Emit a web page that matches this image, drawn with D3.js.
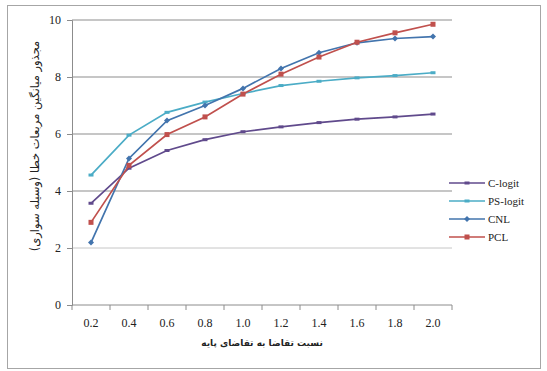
<!DOCTYPE html>
<html>
<head>
<meta charset="utf-8">
<script src="https://cdn.jsdelivr.net/npm/d3@7/dist/d3.min.js"></script>
<style>
  html, body { margin: 0; padding: 0; background: #fff; }
  svg { display: block; }
</style>
</head>
<body>
<svg id="chart" width="547" height="371"></svg>
<script>
// Demand ratio categories (x axis)
const categories = ["0.2", "0.4", "0.6", "0.8", "1.0", "1.2", "1.4", "1.6", "1.8", "2.0"];
const yTicks = [0, 2, 4, 6, 8, 10];

// Error values per model
const cLogit  = [3.57, 4.8, 5.42, 5.8, 6.08, 6.25, 6.4, 6.52, 6.6, 6.7];
const psLogit = [4.56, 5.96, 6.76, 7.12, 7.42, 7.7, 7.85, 7.97, 8.05, 8.15];
const cnl     = [2.19, 5.14, 6.47, 7.0, 7.6, 8.3, 8.85, 9.2, 9.35, 9.42];
const pcl     = [2.9, 4.9, 5.98, 6.6, 7.4, 8.1, 8.7, 9.22, 9.55, 9.85];

const seriesNames = ["C-logit", "PS-logit", "CNL", "PCL"];
const seriesValues = [cLogit, psLogit, cnl, pcl];
const seriesColors = ["#604a8c", "#4bacc6", "#4274ad", "#c0504d"];
const seriesMarkers = ["dash", "dash", "diamond", "square"];

const xTitle = "نسبت تقاضا به تقاضای پایه";
const yTitle = "مجذور میانگین مربعات خطا (وسیله سواری)";

const svg = d3.select("#chart");

// outer frame
svg.append("rect")
  .attr("x", 7.5).attr("y", 5.5)
  .attr("width", 533).attr("height", 363)
  .attr("fill", "#fff").attr("stroke", "#a6a6a6").attr("stroke-width", 1);

const plot = { left: 72, right: 452, top: 20, bottom: 305 };

const x = d3.scaleBand().domain(categories).range([plot.left, plot.right]);
const y = d3.scaleLinear().domain([0, 10]).range([plot.bottom, plot.top]);

// horizontal gridlines
svg.append("g")
  .selectAll("line")
  .data(yTicks.filter(d => d > 0))
  .join("line")
  .attr("x1", plot.left).attr("x2", plot.right)
  .attr("y1", d => y(d)).attr("y2", d => y(d))
  .attr("stroke", "#c6c6c6").attr("stroke-width", d => d === 2 ? 1 : 1.8);

// y axis
const yAxis = svg.append("g")
  .attr("transform", `translate(${plot.left},0)`)
  .call(d3.axisLeft(y).tickValues(yTicks).tickSize(5).tickPadding(6).tickFormat(d3.format("d")));
yAxis.select(".domain").attr("stroke", "#8c8c8c");
yAxis.selectAll(".tick line").attr("stroke", "#8c8c8c");
yAxis.selectAll("text")
  .attr("font-family", "Liberation Serif, serif").attr("font-size", 12).attr("fill", "#222");

// x axis: ticks at category boundaries, labels centred in each band
const xAxis = svg.append("g")
  .attr("transform", `translate(0,${plot.bottom})`);
xAxis.append("line")
  .attr("x1", plot.left).attr("x2", plot.right)
  .attr("stroke", "#8c8c8c");
const bounds = categories.map(c => x(c)).concat([x.range()[1]]);
xAxis.selectAll("line.tk")
  .data(bounds)
  .join("line").attr("class", "tk")
  .attr("x1", d => d).attr("x2", d => d)
  .attr("y1", 0).attr("y2", 5)
  .attr("stroke", "#8c8c8c");
xAxis.selectAll("text")
  .data(categories)
  .join("text")
  .attr("x", d => x(d) + x.bandwidth() / 2)
  .attr("y", 22)
  .attr("text-anchor", "middle")
  .attr("font-family", "Liberation Serif, serif").attr("font-size", 12).attr("fill", "#222")
  .text(d => d);

// axis titles
svg.append("text")
  .attr("x", (plot.left + plot.right) / 2).attr("y", 346)
  .attr("text-anchor", "middle")
  .attr("direction", "rtl")
  .attr("font-family", "DejaVu Sans, sans-serif").attr("font-size", 9).attr("font-weight", "bold")
  .attr("fill", "#222")
  .text(xTitle);

svg.append("text")
  .attr("transform", `translate(39,${(plot.top + 272) / 2}) rotate(-90)`)
  .attr("text-anchor", "middle")
  .attr("direction", "rtl")
  .attr("font-family", "DejaVu Sans, sans-serif").attr("font-size", 11.5)
  .attr("fill", "#222")
  .text(yTitle);

// series lines
const line = d3.line()
  .x((d, i) => x(categories[i]) + x.bandwidth() / 2)
  .y(d => y(d));

function drawMarker(g, kind, cx, cy, color) {
  if (kind === "square") {
    g.append("rect").attr("x", cx - 2.5).attr("y", cy - 2.5).attr("width", 5).attr("height", 5)
      .attr("fill", color);
  } else if (kind === "diamond") {
    g.append("path").attr("d", `M${cx},${cy - 3}L${cx + 3},${cy}L${cx},${cy + 3}L${cx - 3},${cy}Z`)
      .attr("fill", color);
  } else {
    g.append("line").attr("x1", cx - 2.5).attr("x2", cx + 2.5).attr("y1", cy).attr("y2", cy)
      .attr("stroke", color).attr("stroke-width", 3);
  }
}

seriesValues.forEach((vals, si) => {
  const g = svg.append("g");
  g.append("path")
    .datum(vals)
    .attr("d", line)
    .attr("fill", "none")
    .attr("stroke", seriesColors[si])
    .attr("stroke-width", 1.7);
  vals.forEach((v, i) => {
    drawMarker(g, seriesMarkers[si], x(categories[i]) + x.bandwidth() / 2, y(v), seriesColors[si]);
  });
});

// legend
const legendY = [183, 201, 219, 237];
const legend = svg.append("g");
seriesNames.forEach((name, i) => {
  const ly = legendY[i];
  legend.append("line")
    .attr("x1", 449).attr("x2", 485).attr("y1", ly).attr("y2", ly)
    .attr("stroke", seriesColors[i]).attr("stroke-width", 1.7);
  drawMarker(legend, seriesMarkers[i], 467, ly, seriesColors[i]);
  legend.append("text")
    .attr("x", 488).attr("y", ly + 4)
    .attr("font-family", "Liberation Serif, serif").attr("font-size", 11).attr("fill", "#222")
    .text(name);
});
</script>
</body>
</html>
